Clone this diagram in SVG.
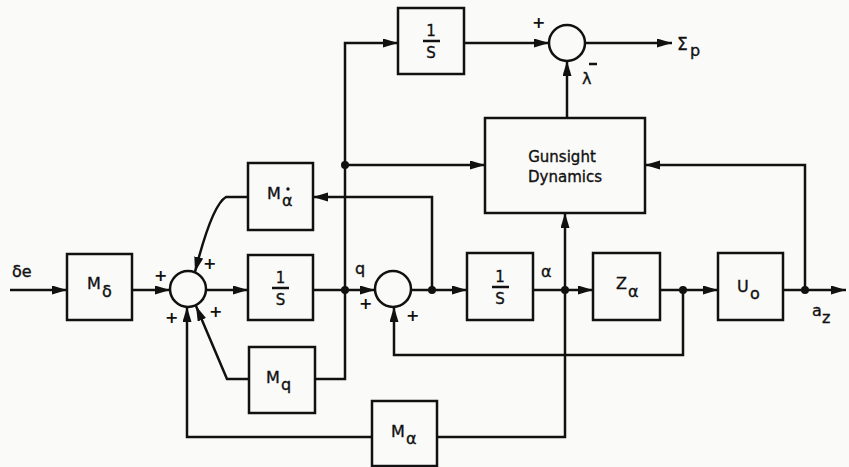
<svg xmlns="http://www.w3.org/2000/svg" width="849" height="467" viewBox="0 0 849 467">
<style>
.bg{fill:#fafaf8}
.box{fill:none;stroke:#111;stroke-width:2.5}
.sum{fill:#fafaf8;stroke:#111;stroke-width:2.5}
.ln{fill:none;stroke:#111;stroke-width:2.5;marker-end:url(#ah)}
.pl{fill:none;stroke:#111;stroke-width:2.5}
.dot{fill:#111}
text{font-family:"DejaVu Sans","Liberation Sans",sans-serif;fill:#111;stroke:#111;stroke-width:0.35}
.lb{font-size:16px}
.sb{font-size:16px}
.sg{font-size:15px}
.ps{font-size:16px;font-weight:bold;stroke-width:0}
</style>
<defs>
<marker id="ah" markerUnits="userSpaceOnUse" markerWidth="16" markerHeight="10" refX="15" refY="4.5" orient="auto">
<path d="M0,0 L15,4.5 L0,9 z" fill="#111"/>
</marker>
</defs>
<rect class="bg" width="849" height="467"/>

<g id="connectors">
<path class="ln" d="M10,290 H67"/>
<path class="ln" d="M132,290 H170"/>
<path class="ln" d="M206,290 H248"/>
<path class="ln" d="M313,290 H375"/>
<path class="ln" d="M411,290 H467"/>
<path class="ln" d="M533,290 H593"/>
<path class="ln" d="M660,290 H718"/>
<path class="ln" d="M783,290 H846"/>
<path class="pl" d="M315,379 H345 V290"/>
<path class="ln" d="M345,290 V43 H398"/>
<path class="ln" d="M345,165 H485"/>
<path class="ln" d="M464,43 H549"/>
<path class="ln" d="M585,43 H672"/>
<path class="ln" d="M567,118 V61"/>
<path class="ln" d="M565,290 V213"/>
<path class="ln" d="M805,290 V165 H645"/>
<path class="ln" d="M432,290 V197 H313"/>
<path class="ln" d="M248,197 H226 Q212,205 195,272"/>
<path class="ln" d="M249,379 H227 L196,306"/>
<path class="ln" d="M683,290 V355 H394 V307"/>
<path class="pl" d="M565,290 V437 H437"/>
<path class="ln" d="M372,437 H187 V307"/>
<circle class="dot" cx="345" cy="290" r="4"/>
<circle class="dot" cx="345" cy="165" r="4"/>
<circle class="dot" cx="432" cy="290" r="4"/>
<circle class="dot" cx="565" cy="290" r="4"/>
<circle class="dot" cx="683" cy="290" r="4"/>
<circle class="dot" cx="805" cy="290" r="4"/>
</g>

<g id="labels">
<text class="lb" x="12" y="277">δe</text>
<text class="lb" x="355" y="274">q</text>
<text class="lb" x="541" y="277">α</text>
<text class="lb" x="812" y="316">a</text><text class="sb" x="822" y="323">z</text>
<text style="font-size:17px" x="677" y="50">Σ</text><text class="sb" x="690" y="56">p</text>
</g>

<g id="Md"><rect class="box" x="67" y="254" width="65" height="66"/><text class="lb" x="87" y="289">M</text><text class="sb" x="102" y="297">δ</text></g>

<g id="sum1"><circle class="sum" cx="188" cy="289" r="18"/>
<text class="ps" x="154" y="281">+</text><text class="ps" x="203" y="269">+</text><text class="ps" x="165" y="323">+</text><text class="ps" x="209" y="317">+</text></g>

<g id="int1"><rect class="box" x="248" y="255" width="65" height="65"/><text class="sg" x="280.5" y="283" text-anchor="middle">1</text><line class="pl" x1="272" y1="288" x2="289" y2="288" stroke-width="1.8"/><text class="sg" x="280.5" y="305" text-anchor="middle">S</text></g>

<g id="Mad"><rect class="box" x="248" y="163" width="65" height="67"/><text class="lb" x="267" y="199">M</text><text class="sb" x="282" y="206">α</text><circle class="dot" cx="288" cy="189" r="1.7"/></g>

<g id="Mq"><rect class="box" x="249" y="347" width="66" height="66"/><text class="lb" x="266" y="383">M</text><text class="sb" x="281" y="390">q</text></g>

<g id="sum2"><circle class="sum" cx="393" cy="289" r="18"/>
<text class="ps" x="359" y="309">+</text><text class="ps" x="406" y="321">+</text></g>

<g id="int2"><rect class="box" x="467" y="253" width="66" height="67"/><text class="sg" x="500" y="282" text-anchor="middle">1</text><line class="pl" x1="492" y1="287" x2="509" y2="287" stroke-width="1.8"/><text class="sg" x="500" y="304" text-anchor="middle">S</text></g>

<g id="Za"><rect class="box" x="593" y="253" width="67" height="67"/><text class="lb" x="616" y="289">Z</text><text class="sb" x="628" y="297">α</text></g>

<g id="Uo"><rect class="box" x="718" y="253" width="65" height="67"/><text class="lb" x="737" y="292">U</text><text class="sb" x="750" y="299">o</text></g>

<g id="Ma"><rect class="box" x="372" y="401" width="65" height="65"/><text class="lb" x="391" y="437">M</text><text class="sb" x="406" y="444">α</text></g>

<g id="int3"><rect class="box" x="398" y="8" width="66" height="66"/><text class="sg" x="431" y="36" text-anchor="middle">1</text><line class="pl" x1="423" y1="41" x2="440" y2="41" stroke-width="1.8"/><text class="sg" x="431" y="58" text-anchor="middle">S</text></g>

<g id="sum3"><circle class="sum" cx="567" cy="43" r="18"/>
<text class="ps" x="532" y="28">+</text><text class="lb" x="582" y="84">λ</text><line class="pl" x1="589" y1="64" x2="597" y2="64" stroke-width="2"/></g>

<g id="gunsight"><rect class="box" x="485" y="118" width="160" height="95"/><text class="sg" x="562" y="162" text-anchor="middle">Gunsight</text><text class="sg" x="565" y="182" text-anchor="middle">Dynamics</text></g>
</svg>
